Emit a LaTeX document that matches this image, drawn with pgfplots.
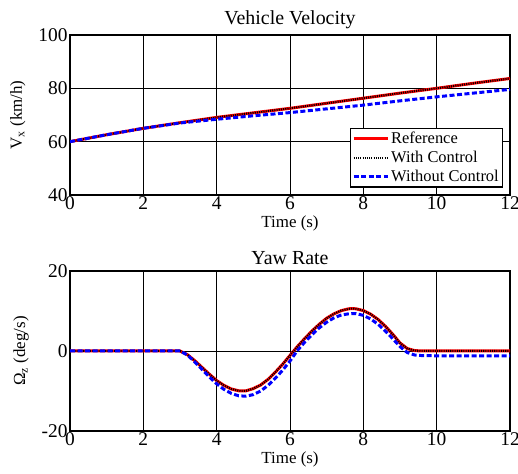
\documentclass[border=0pt]{standalone}
\usepackage{fontspec}
\setmainfont{Liberation Serif}
\usepackage{pgfplots}
\pgfplotsset{compat=1.18}
\begin{document}
\begin{tikzpicture}[x=1bp,y=1bp]
\path[use as bounding box] (0,0) rectangle (518,474);
\pgfplotsset{
  myax/.style={
    scale only axis, width=440bp, height=160bp,
    anchor=south west,
    xmin=0, xmax=12, xtick={0,2,...,12},
    grid=major, major grid style={black, line width=0.8bp},
    axis line style={black, line width=1.5bp},
    tick style={black, line width=0.8bp},
    tick align=inside, major tick length=4bp,
    /pgf/number format/assume math mode=true,
    ticklabel style={font=\fontsize{19.5}{20}\selectfont},
    xticklabel style={yshift=2bp},
    yticklabel style={xshift=1bp},
    label style={font=\fontsize{17}{18}\selectfont},
    title style={font=\fontsize{20}{22}\selectfont, yshift=-3bp},
    xlabel={Time (s)},
    xlabel style={yshift=1bp},
    ylabel style={yshift=6bp},
  },
  refst/.style={red, line width=3bp},
  wcst/.style={black, line width=2bp, dash pattern=on 1.1bp off 1.1bp},
  nost/.style={blue, line width=3bp, dash pattern=on 5bp off 2.5bp},
}
\begin{axis}[myax, at={(70bp,279bp)},
  ymin=40, ymax=100, ytick={40,60,80,100},
  ylabel={V\textsubscript{x} (km/h)},
  title={Vehicle Velocity},
  legend style={at={(0.985,0.045)}, anchor=south east, draw=black, line width=1.3bp,
    font=\fontsize{16.5}{18}\selectfont, row sep=2bp, inner sep=2bp,
    cells={anchor=west}},
  legend image code/.code={\draw[#1] (0bp,0bp) -- (34bp,0bp);},
]
\addplot[refst] coordinates {(0,60) (1,62.6) (2,65) (3,67.1) (4,69.1) (5,70.8) (6,72.5) (7,74.4) (8,76.3) (9,78.2) (10,80) (11,81.9) (12,83.7)};
\addlegendentry{Reference}
\addplot[wcst] coordinates {(0,60) (1,62.6) (2,65) (3,67.1) (4,69.1) (5,70.8) (6,72.5) (7,74.4) (8,76.3) (9,78.2) (10,80) (11,81.9) (12,83.7)};
\addlegendentry{With Control}
\addplot[nost] coordinates {(0,60) (1,62.6) (2,65) (3,67) (4,68.4) (5,69.7) (6,70.9) (7,72.3) (8,73.7) (9,75.3) (10,76.8) (11,78.2) (12,79.6)};
\addlegendentry{Without Control}
\end{axis}
\begin{axis}[myax, at={(70bp,43bp)},
  ymin=-20, ymax=20, ytick={-20,0,20},
  ylabel={\symbol{"03A9}\textsubscript{z} (deg/s)},
  title={Yaw Rate},
]
\addplot[refst] coordinates {(0,0) (3,0) (3.2,-0.9) (3.4,-2.4) (3.6,-4.1) (3.8,-5.8) (4.0,-7.4) (4.2,-8.6) (4.4,-9.5) (4.6,-9.95) (4.7,-10) (4.8,-9.95) (5.0,-9.4) (5.2,-8.5) (5.4,-7.1) (5.6,-5.3) (5.8,-3.3) (6.0,-1.1) (6.2,1.1) (6.4,3.1) (6.6,5.0) (6.8,6.7) (7.0,8.2) (7.2,9.3) (7.4,10.1) (7.6,10.55) (7.7,10.6) (7.8,10.55) (8.0,10.1) (8.2,9.2) (8.4,7.9) (8.6,6.2) (8.8,4.2) (9.0,2.0) (9.2,0.6) (9.4,0.1) (9.6,0) (12,0)};
\addplot[wcst] coordinates {(0,0) (3,0) (3.2,-0.9) (3.4,-2.4) (3.6,-4.1) (3.8,-5.8) (4.0,-7.4) (4.2,-8.6) (4.4,-9.5) (4.6,-9.95) (4.7,-10) (4.8,-9.95) (5.0,-9.4) (5.2,-8.5) (5.4,-7.1) (5.6,-5.3) (5.8,-3.3) (6.0,-1.1) (6.2,1.1) (6.4,3.1) (6.6,5.0) (6.8,6.7) (7.0,8.2) (7.2,9.3) (7.4,10.1) (7.6,10.55) (7.7,10.6) (7.8,10.55) (8.0,10.1) (8.2,9.2) (8.4,7.9) (8.6,6.2) (8.8,4.2) (9.0,2.0) (9.2,0.6) (9.4,0.1) (9.6,0) (12,0)};
\addplot[nost] coordinates {(0,0) (3,0) (3.2,-1.0) (3.4,-2.7) (3.6,-4.6) (3.8,-6.5) (4.0,-8.2) (4.2,-9.6) (4.4,-10.6) (4.6,-11.2) (4.8,-11.3) (5.0,-10.9) (5.2,-10.0) (5.4,-8.6) (5.6,-6.8) (5.8,-4.8) (6.0,-2.5) (6.2,0.1) (6.4,2.2) (6.6,4.1) (6.8,5.8) (7.0,7.2) (7.2,8.3) (7.4,9.0) (7.6,9.3) (7.8,9.35) (8.0,8.9) (8.2,8.0) (8.4,6.7) (8.6,5.0) (8.8,3.1) (9.0,1.1) (9.2,-0.4) (9.4,-1.0) (9.6,-1.15) (10,-1.2) (12,-1.25)};
\end{axis}
\end{tikzpicture}
\end{document}
